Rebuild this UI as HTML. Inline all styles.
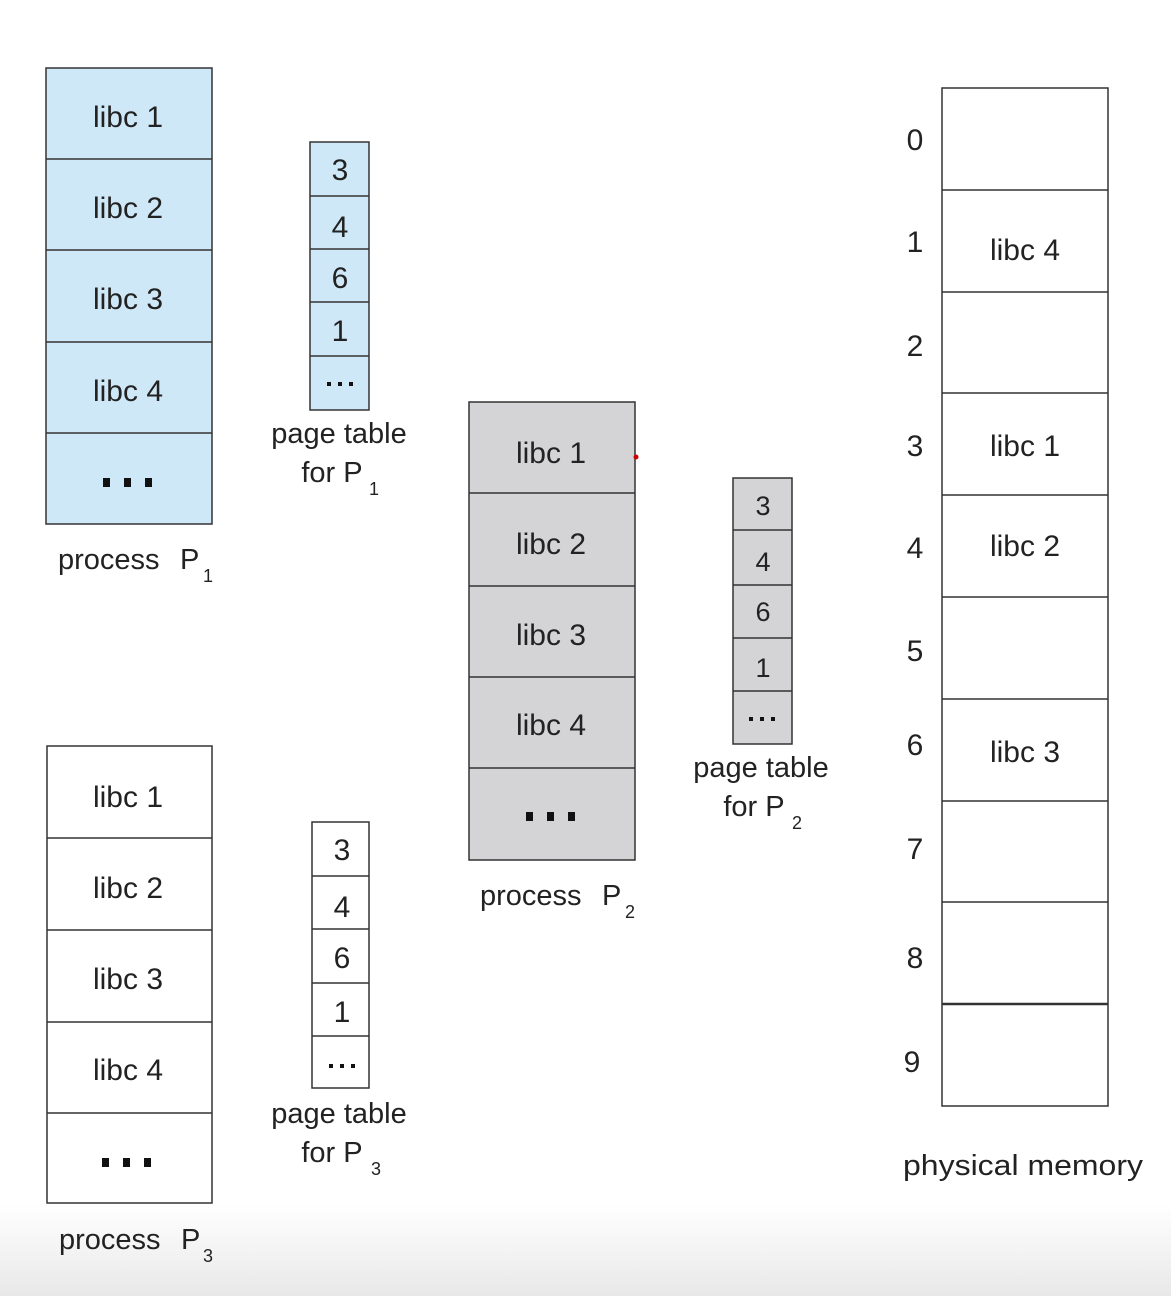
<!DOCTYPE html>
<html><head><meta charset="utf-8"><style>
html,body{margin:0;padding:0;background:#fff;}
svg{display:block;}
text{font-family:"Liberation Sans",sans-serif;fill:#222;}
</style></head><body>
<svg width="1171" height="1296" viewBox="0 0 1171 1296" xmlns="http://www.w3.org/2000/svg">
<defs><linearGradient id="g" x1="0" y1="0" x2="0" y2="1"><stop offset="0" stop-color="#fff"/><stop offset="1" stop-color="#e8e8e8"/></linearGradient></defs>
<rect x="0" y="1205" width="1171" height="91" fill="url(#g)"/>
<g stroke="#333" stroke-width="1.5">
<rect x="46" y="68" width="166" height="456" fill="#cfe8f7"/>
<line x1="46" y1="159" x2="212" y2="159"/><line x1="46" y1="250" x2="212" y2="250"/><line x1="46" y1="342" x2="212" y2="342"/><line x1="46" y1="433" x2="212" y2="433"/>
<rect x="310" y="142" width="59" height="268" fill="#cfe8f7"/>
<line x1="310" y1="196" x2="369" y2="196"/><line x1="310" y1="249" x2="369" y2="249"/><line x1="310" y1="302" x2="369" y2="302"/><line x1="310" y1="356" x2="369" y2="356"/>
<rect x="469" y="402" width="166" height="458" fill="#d4d4d6"/>
<line x1="469" y1="493" x2="635" y2="493"/><line x1="469" y1="586" x2="635" y2="586"/><line x1="469" y1="677" x2="635" y2="677"/><line x1="469" y1="768" x2="635" y2="768"/>
<rect x="733" y="478" width="59" height="266" fill="#d4d4d6"/>
<line x1="733" y1="530" x2="792" y2="530"/><line x1="733" y1="585" x2="792" y2="585"/><line x1="733" y1="638" x2="792" y2="638"/><line x1="733" y1="691" x2="792" y2="691"/>
<rect x="47" y="746" width="165" height="457" fill="#fff"/>
<line x1="47" y1="838" x2="212" y2="838"/><line x1="47" y1="930" x2="212" y2="930"/><line x1="47" y1="1022" x2="212" y2="1022"/><line x1="47" y1="1113" x2="212" y2="1113"/>
<rect x="312" y="822" width="57" height="266" fill="#fff"/>
<line x1="312" y1="876" x2="369" y2="876"/><line x1="312" y1="929" x2="369" y2="929"/><line x1="312" y1="983" x2="369" y2="983"/><line x1="312" y1="1036" x2="369" y2="1036"/>
<rect x="942" y="88" width="166" height="1018" fill="#fff"/>
<line x1="942" y1="190" x2="1108" y2="190"/><line x1="942" y1="292" x2="1108" y2="292"/><line x1="942" y1="393" x2="1108" y2="393"/><line x1="942" y1="495" x2="1108" y2="495"/><line x1="942" y1="597" x2="1108" y2="597"/><line x1="942" y1="699" x2="1108" y2="699"/><line x1="942" y1="801" x2="1108" y2="801"/><line x1="942" y1="902" x2="1108" y2="902"/><line x1="942" y1="1004" x2="1108" y2="1004" stroke-width="2.5"/>
</g>
<circle cx="636" cy="457" r="2.5" fill="#c00"/>
<g font-size="30" text-anchor="middle">
<text x="128" y="127">libc 1</text><text x="128" y="218">libc 2</text><text x="128" y="309">libc 3</text><text x="128" y="401">libc 4</text>
<text x="551" y="463">libc 1</text><text x="551" y="554">libc 2</text><text x="551" y="645">libc 3</text><text x="551" y="735">libc 4</text>
<text x="128" y="807">libc 1</text><text x="128" y="898">libc 2</text><text x="128" y="989">libc 3</text><text x="128" y="1080">libc 4</text>
<text x="1025" y="260">libc 4</text><text x="1025" y="456">libc 1</text><text x="1025" y="556">libc 2</text><text x="1025" y="762">libc 3</text>
</g>
<g font-size="30" text-anchor="middle">
<text x="340" y="180">3</text><text x="340" y="237">4</text><text x="340" y="288">6</text><text x="340" y="341">1</text>
<text x="342" y="860">3</text><text x="342" y="917">4</text><text x="342" y="968">6</text><text x="342" y="1022">1</text>
</g>
<g font-size="27" text-anchor="middle">
<text x="763" y="515">3</text><text x="763" y="571">4</text><text x="763" y="621">6</text><text x="763" y="677">1</text>
</g>
<g font-size="30" text-anchor="middle">
<text x="915" y="150">0</text><text x="915" y="252">1</text><text x="915" y="356">2</text><text x="915" y="456">3</text><text x="915" y="558">4</text><text x="915" y="661">5</text><text x="915" y="755">6</text><text x="915" y="859">7</text><text x="915" y="968">8</text><text x="912" y="1072">9</text>
</g>
<g fill="#111">
<rect x="103" y="478" width="7" height="9"/><rect x="124" y="478" width="7" height="9"/><rect x="145" y="478" width="7" height="9"/>
<rect x="526" y="812" width="7" height="9"/><rect x="547" y="812" width="7" height="9"/><rect x="568" y="812" width="7" height="9"/>
<rect x="102" y="1158" width="7" height="9"/><rect x="123" y="1158" width="7" height="9"/><rect x="144" y="1158" width="7" height="9"/>
<rect x="327" y="382" width="4" height="4"/><rect x="338" y="382" width="4" height="4"/><rect x="349" y="382" width="4" height="4"/>
<rect x="749" y="717" width="4" height="4"/><rect x="760" y="717" width="4" height="4"/><rect x="771" y="717" width="4" height="4"/>
<rect x="329" y="1064" width="4" height="4"/><rect x="340" y="1064" width="4" height="4"/><rect x="351" y="1064" width="4" height="4"/>
</g>
<g font-size="29" text-anchor="middle">
<text x="339" y="443">page table</text><text x="332" y="482">for P</text><text x="374" y="495" font-size="18">1</text>
<text x="761" y="777">page table</text><text x="754" y="816">for P</text><text x="797" y="829" font-size="18">2</text>
<text x="339" y="1123">page table</text><text x="332" y="1162">for P</text><text x="376" y="1175" font-size="18">3</text>
</g>
<g font-size="29">
<text x="58" y="569">process</text><text x="180" y="569">P</text><text x="203" y="582" font-size="18">1</text>
<text x="480" y="905">process</text><text x="602" y="905">P</text><text x="625" y="918" font-size="18">2</text>
<text x="59" y="1249">process</text><text x="181" y="1249">P</text><text x="203" y="1262" font-size="18">3</text>
<text x="903" y="1175" textLength="240" lengthAdjust="spacingAndGlyphs">physical memory</text>
</g>
</svg>
</body></html>
